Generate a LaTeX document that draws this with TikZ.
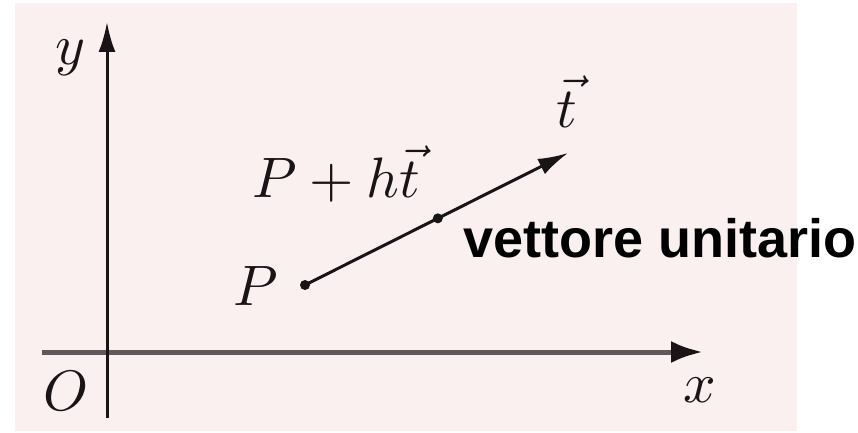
\documentclass[tikz,border=0pt]{standalone}
\usepackage{graphicx}
\usepackage{fontspec}
\newfontfamily\labelsans{Liberation Sans}
\usetikzlibrary{arrows.meta,calc}
\definecolor{paper}{RGB}{251,240,240}
\definecolor{inkdark}{RGB}{25,20,22}
\definecolor{axisgray}{RGB}{95,88,92}
\newcommand{\bigmath}[1]{\scalebox{5.7}{$#1$}}
\tikzset{
  mathlabel/.style={inner sep=0pt,text=inkdark},
  axisline/.style={line width=3pt,draw=inkdark},
  xaxisline/.style={line width=5pt,draw=axisgray},
  vecline/.style={line width=3pt,draw=inkdark},
  bigdot/.style={circle,fill=inkdark,inner sep=0pt,minimum size=10pt},
}
\begin{document}
\begin{tikzpicture}[x=1pt,y=-1pt]
\useasboundingbox (0,0) rectangle (858,433);
\fill[paper] (15,3) rectangle (797,431);
% axes
\coordinate (ybot) at (107,418);
\coordinate (ytop) at (107,22);
\coordinate (xleft) at (42,352);
\coordinate (xright) at (703,352);
\draw[xaxisline,-{Latex[length=32pt,width=22pt,color=inkdark]}] (xleft) -- (xright);
\draw[axisline,-{Latex[length=30pt,width=17pt]}] (ybot) -- (ytop);
% vector
\node[bigdot] (P) at (305,285) {};
\coordinate (T) at (568,153);
\node[bigdot] (M) at ($(P)!0.505!(T)$) {};
\draw[vecline,-{Latex[length=30pt,width=17pt]}] (P.center) -- (T);
% labels
\node[mathlabel] (ylab) at (70,58) {\bigmath{y}};
\node[mathlabel] (xlab) at (700,390) {\bigmath{x}};
\node[mathlabel] (olab) at (66,391) {\bigmath{O}};
\node[mathlabel,anchor=base west] (plab) at (233,305) {\bigmath{P}};
\node[mathlabel,anchor=base west] (phtlab) at (252,197) {\bigmath{P+h\vec{t}}};
\node[mathlabel,anchor=base] (tlab) at (567,127) {\bigmath{\vec{t}}};
\node[inner sep=0pt,anchor=base west,font=\labelsans\bfseries\fontsize{54}{58}\selectfont] (vu) at (463,257) {vettore unitario};
\end{tikzpicture}
\end{document}
